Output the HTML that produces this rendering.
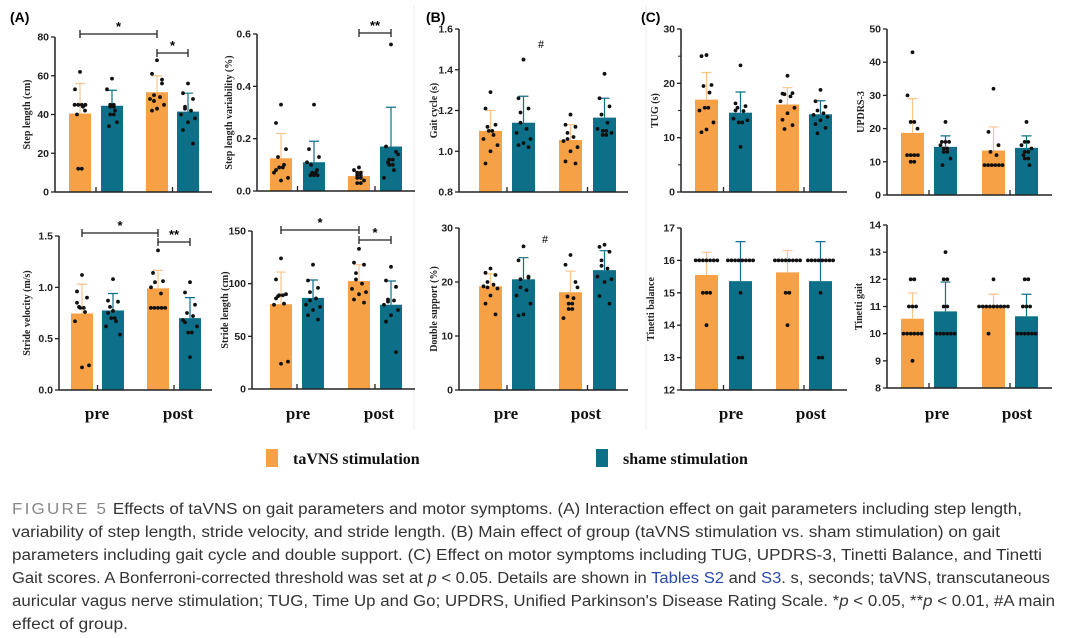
<!DOCTYPE html>
<html><head><meta charset="utf-8"><style>
body{margin:0;background:#fff;}
svg{display:block;}
.tk{font:bold 10.5px "Liberation Sans",sans-serif;fill:#222;}
.yl{font:bold 10px "Liberation Serif",serif;fill:#222;}
.cat{font:bold 17px "Liberation Serif",serif;fill:#111;}
.cap{font:15.5px "Liberation Sans",sans-serif;fill:#333;}
</style></head><body>
<svg id="fig" width="1076" height="638" viewBox="0 0 1076 638" xmlns="http://www.w3.org/2000/svg">
<text x="10" y="22" style="font:bold 14px 'Liberation Sans',sans-serif">(A)</text>
<text x="426" y="22" style="font:bold 14px 'Liberation Sans',sans-serif">(B)</text>
<text x="641" y="22" style="font:bold 14px 'Liberation Sans',sans-serif">(C)</text>
<line x1="414" y1="5" x2="414" y2="430" stroke="#eee"/>
<line x1="646" y1="5" x2="646" y2="430" stroke="#eee"/>
<g id="charts"></g>
<g>
<rect x="266" y="449" width="12" height="18" fill="#F7A146"/>
<text x="293" y="464" style="font:bold 16px 'Liberation Serif',serif" fill="#111">taVNS stimulation</text>
<rect x="596" y="449" width="12" height="18" fill="#0E7088"/>
<text x="623" y="464" style="font:bold 16px 'Liberation Serif',serif" fill="#111">shame stimulation</text>
</g>
<g>
<text class="cap" x="12" y="514" textLength="1010" lengthAdjust="spacingAndGlyphs"><tspan fill="#888" letter-spacing="2">FIGURE 5</tspan>   Effects of taVNS on gait parameters and motor symptoms. (A) Interaction effect on gait parameters including step length,</text>
<text class="cap" x="12" y="537" textLength="988" lengthAdjust="spacingAndGlyphs">variability of step length, stride velocity, and stride length. (B) Main effect of group (taVNS stimulation vs. sham stimulation) on gait</text>
<text class="cap" x="12" y="560" textLength="1030" lengthAdjust="spacingAndGlyphs">parameters including gait cycle and double support. (C) Effect on motor symptoms including TUG, UPDRS-3, Tinetti Balance, and Tinetti</text>
<text class="cap" x="12" y="583" textLength="1038" lengthAdjust="spacingAndGlyphs">Gait scores. A Bonferroni-corrected threshold was set at <tspan font-style="italic">p</tspan> &lt; 0.05. Details are shown in <tspan fill="#2a4aa8">Tables S2</tspan> and <tspan fill="#2a4aa8">S3</tspan>. s, seconds; taVNS, transcutaneous</text>
<text class="cap" x="12" y="606" textLength="1043" lengthAdjust="spacingAndGlyphs">auricular vagus nerve stimulation; TUG, Time Up and Go; UPDRS, Unified Parkinson's Disease Rating Scale. *<tspan font-style="italic">p</tspan> &lt; 0.05, **<tspan font-style="italic">p</tspan> &lt; 0.01, #A main</text>
<text class="cap" x="12" y="629" textLength="116" lengthAdjust="spacingAndGlyphs">effect of group.</text>
</g>
</svg>
<script>
// ---- data ----
const groups = ["pre-taVNS","pre-sham","post-taVNS","post-sham"];
const stepLenMeans=[40.5,44.5,51.5,41.5];
const stepLenErrTop=[56,52.5,60,51];
const stepLenPts=[[62,53,45,45,45,45,42,40,12,12,44],[58.5,53,45,45,44,40,40,36,34,44,42],[68,61,58,50,49,48,45,43,42,56,47],[56,51,48,43,42,40,38,36,32,25,44]];
const stepVarMeans=[0.125,0.11,0.057,0.17];
const stepVarErrTop=[0.22,0.19,0.075,0.32];
const stepVarPts=[[0.33,0.26,0.16,0.13,0.1,0.09,0.09,0.07,0.05,0.04,0.08],[0.33,0.16,0.13,0.1,0.08,0.07,0.07,0.06,0.06,0.06,0.11],[0.09,0.08,0.07,0.07,0.06,0.05,0.05,0.04,0.03,0.03,0.06],[0.56,0.17,0.15,0.12,0.12,0.11,0.1,0.08,0.05,0.14,0.1]];
const velMeans=[0.745,0.775,0.99,0.7];
const velErrTop=[1.03,0.94,1.165,0.9];
const velPts=[[1.12,0.96,0.9,0.81,0.8,0.8,0.76,0.67,0.24,0.22,0.85],[1.08,0.87,0.86,0.81,0.7,0.7,0.67,0.62,0.54,0.77,0.75],[1.36,1.14,1.06,1.05,0.94,0.8,0.8,0.8,0.8,0.8,1.0],[1.05,0.95,0.83,0.75,0.72,0.68,0.62,0.56,0.56,0.32,0.66]];
const strideMeans=[80.5,86.5,102.5,80];
const strideErrTop=[111,103.5,118,102.5];
const stridePts=[[124,104,90,89,89,88,81,80,26,24,86],[118,103,96,92,86,80,78,75,70,66,84],[133,120,118,104,100,95,92,90,85,82,110],[116,103,97,85,84,80,75,70,64,35,83]];
const gaitMeans=[1.1,1.14,1.055,1.165];
const gaitErrTop=[1.2,1.27,1.13,1.26];
const gaitPts=[[1.29,1.21,1.13,1.12,1.1,1.08,1.06,1.03,1.0,0.94,1.1],[1.45,1.26,1.21,1.19,1.11,1.09,1.06,1.04,1.03,1.02,1.14],[1.18,1.13,1.12,1.09,1.07,1.05,1.02,1.0,0.95,0.94,1.06],[1.38,1.26,1.22,1.18,1.14,1.11,1.1,1.09,1.08,1.08,1.1]];
const dsMeans=[19.2,20.5,18.1,22.2];
const dsErrTop=[21.5,24.5,22,25.8];
const dsPts=[[22.5,21.7,21.3,20,19.5,19.2,18.8,17.5,16,14,19],[26.6,24,20.8,20.5,18.5,17.5,16,14,13.8,21,19],[25,23.2,20,17.3,17,16,15,15,13.3,19,16],[26.9,26.5,25.6,24,22.5,21,20.5,20,17.4,16,23]];
const tugMeans=[17,14.6,16.1,14.3];
const tugErrTop=[22,18.4,19.2,16.8];
const tugPts=[[25.2,25,19.7,19.5,18.3,15.5,15.5,15,12.8,11.5,11],[23.3,16.3,15.8,15.5,14.9,13.5,13.2,12.8,12.8,8.3,15],[21.4,18.1,18.2,18,17.6,16.7,15.5,14.5,13.3,12.3,11.6],[18.8,16.7,15.7,15,14.5,14.2,13.8,13.2,12.5,11.8,10.8]];
const updrsMeans=[18.7,14.5,13.4,14.2];
const updrsErrTop=[29,17.8,20.5,17.8];
const updrsPts=[[43,30,22,22,20,12,12,12,12,10,10],[22,16,16,16,15,14,14,13,13,11,9],[32,19,15,13,12,9,9,9,9,9,9],[22,16,16,15,14,13,13,12,11,11,9]];
const balMeans=[15.55,15.36,15.63,15.36];
const balErrTop=[16.25,16.58,16.3,16.58];
const balPts=[[16,16,16,16,16,16,16,15,15,15,14],[16,16,16,16,16,16,16,16,15,13,13],[16,16,16,16,16,16,16,16,15,15,14],[16,16,16,16,16,16,16,16,15,13,13]];
const tgMeans=[10.55,10.82,11.0,10.64];
const tgErrTop=[11.5,11.9,11.45,11.45];
const tgPts=[[12,12,11,11,11,10,10,10,10,10,10,9],[13,12,12,11,11,10,10,10,10,10,10],[12,11,11,11,11,11,11,11,11,11,10],[12,12,11,11,11,10,10,10,10,10,10]];
const catLabels=["pre","post"];

const ORANGE="#F7A146", TEAL="#0E7088", OERR="#F9C48C";
const NS="http://www.w3.org/2000/svg";
const root=document.getElementById('charts');
function mk(tag,attrs,parent){const e=document.createElementNS(NS,tag);for(const k in attrs)e.setAttribute(k,attrs[k]);(parent||root).appendChild(e);return e;}

const panels=[
 {id:'step-length',ax:55,xEnd:212,yTop:37,yBot:192,min:0,max:80,ticks:[0,20,40,60,80],dec:0,bx:[69,101,146,177],bw:22,label:'Step length (cm)',lx:30,means:stepLenMeans,errs:stepLenErrTop,pts:stepLenPts,sig:[[0,2,34,'*'],[2,3,53,'*']]},
 {id:'step-length-variability',ax:257,xEnd:415,yTop:34,yBot:191,min:0,max:0.6,ticks:[0,0.2,0.4,0.6],dec:1,bx:[270,303,348,380],bw:22,label:'Step length variability (%)',lx:232,means:stepVarMeans,errs:stepVarErrTop,pts:stepVarPts,sig:[[2,3,33,'**']]},
 {id:'stride-velocity',ax:59,xEnd:212,yTop:236,yBot:390,min:0,max:1.5,ticks:[0,0.5,1,1.5],dec:1,bx:[71,102,147,179],bw:22,label:'Stride velocity (m/s)',lx:30,means:velMeans,errs:velErrTop,pts:velPts,sig:[[0,2,233,'*'],[2,3,242,'**']],cats:[97,178]},
 {id:'stride-length',ax:252,xEnd:415,yTop:231,yBot:389,min:0,max:150,ticks:[0,50,100,150],dec:0,bx:[270,302,348,380],bw:22,label:'Stride length (cm)',lx:228,means:strideMeans,errs:strideErrTop,pts:stridePts,sig:[[0,2,230,'*'],[2,3,240,'*']],cats:[298,379]},
 {id:'gait-cycle',ax:459,xEnd:628,yTop:29,yBot:192,min:0.8,max:1.6,ticks:[0.8,1.0,1.2,1.4,1.6],dec:1,bx:[479,512,559,593],bw:23,label:'Gait cycle (s)',lx:437,means:gaitMeans,errs:gaitErrTop,pts:gaitPts,sig:[],hash:[541,48]},
 {id:'double-support',ax:459,xEnd:628,yTop:228,yBot:390,min:0,max:30,ticks:[0,10,20,30],dec:0,bx:[479,512,559,593],bw:23,label:'Double support (%)',lx:437,means:dsMeans,errs:dsErrTop,pts:dsPts,sig:[],hash:[545,243],cats:[506,586]},
 {id:'tug',ax:681,xEnd:847,yTop:29,yBot:192,min:0,max:30,ticks:[0,10,20,30],minor:5,dec:0,bx:[695,729,776,809],bw:23,label:'TUG (s)',lx:658,means:tugMeans,errs:tugErrTop,pts:tugPts,sig:[]},
 {id:'updrs-3',ax:887,xEnd:1052,yTop:29,yBot:195,min:0,max:50,ticks:[0,10,20,30,40,50],dec:0,bx:[901,934,982,1015],bw:23,label:'UPDRS-3',lx:864,means:updrsMeans,errs:updrsErrTop,pts:updrsPts,sig:[]},
 {id:'tinetti-balance',ax:681,xEnd:847,yTop:228,yBot:390,min:12,max:17,ticks:[12,13,14,15,16,17],dec:0,bx:[695,729,776,809],bw:23,label:'Tinetti balance',lx:654,means:balMeans,errs:balErrTop,pts:balPts,sig:[],cats:[731,811]},
 {id:'tinetti-gait',ax:887,xEnd:1052,yTop:225,yBot:388,min:8,max:14,ticks:[8,9,10,11,12,13,14],dec:0,bx:[901,934,982,1015],bw:23,label:'Tinetti gait',lx:862,means:tgMeans,errs:tgErrTop,pts:tgPts,sig:[],cats:[937,1017]}
];

panels.forEach(p=>{
 const g=mk('g',{});
 
 
 const y=v=>p.yBot-(v-p.min)/(p.max-p.min)*(p.yBot-p.yTop);
 const cx=i=>p.bx[i]+p.bw/2;
 for(let i=0;i<4;i++){
  const col=i%2===0?ORANGE:TEAL, ecol=i%2===0?OERR:TEAL;
  const b=mk('rect',{x:p.bx[i],y:y(p.means[i]),width:p.bw,height:p.yBot-y(p.means[i]),fill:col},g);
  
  
  const e=mk('path',{d:`M${cx(i)} ${y(p.means[i])}V${y(p.errs[i])}M${cx(i)-5} ${y(p.errs[i])}H${cx(i)+5}`,stroke:ecol,'stroke-width':1.2,fill:'none'},g);
  
  
  const counts={};
  p.pts[i].forEach(v=>{counts[v]=(counts[v]||0)+1;});
  const seen={}; let k=0;
  p.pts[i].forEach(v=>{
   const n=counts[v]; const j=(seen[v]=(seen[v]||0)+1)-1;
   let off;
   if(n>1) off=(j-(n-1)/2)*3.6; else {off=[0,-5,5,-3,3,-7,7][k%7];k++;}
   const d=mk('circle',{cx:cx(i)+off,cy:y(v),r:1.9,fill:'#111'},g);
   
   
  });
 }
 const axY=mk('line',{x1:p.ax,y1:p.yTop,x2:p.ax,y2:p.yBot,stroke:'#222','stroke-width':1.5},g);
 
 
 const axX=mk('line',{x1:p.ax,y1:p.yBot,x2:p.xEnd,y2:p.yBot,stroke:'#222','stroke-width':1.5},g);
 
 
 p.ticks.forEach(t=>{
  mk('line',{x1:p.ax-4,y1:y(t),x2:p.ax,y2:y(t),stroke:'#222','stroke-width':1.3},g);
  const tl=mk('text',{x:p.ax-6,y:y(t)+3.5,'text-anchor':'end',class:'tk'},g);
  tl.textContent=t.toFixed(p.dec);
  
  
 });
 if(p.minor){for(let v=p.min+p.minor;v<p.max;v+=2*p.minor)mk('line',{x1:p.ax-3,y1:y(v),x2:p.ax,y2:y(v),stroke:'#222','stroke-width':1},g);}
 [0,2].forEach(i=>{const tx=(p.bx[i]+p.bw+p.bx[i+1])/2;mk('line',{x1:tx,y1:p.yBot-5,x2:tx,y2:p.yBot,stroke:'#222','stroke-width':1.3},g);});
 const lab=mk('text',{x:p.lx,y:(p.yTop+p.yBot)/2,'text-anchor':'middle',class:'yl',transform:`rotate(-90 ${p.lx} ${(p.yTop+p.yBot)/2})`},g);
 lab.textContent=p.label;
 
 
 p.sig.forEach(s=>{
  const x1=cx(s[0]),x2=cx(s[1]),yy=s[2];
  const br=mk('path',{d:`M${x1} ${yy-4}V${yy+4}M${x1} ${yy}H${x2}M${x2} ${yy-4}V${yy+4}`,stroke:'#222','stroke-width':1.3,fill:'none'},g);
  
  
  const st=mk('text',{x:(x1+x2)/2,y:yy-3,'text-anchor':'middle',style:'font:bold 13px "Liberation Sans",sans-serif'},g);
  st.textContent=s[3];
  
  
 });
 if(p.hash){const h=mk('text',{x:p.hash[0],y:p.hash[1],'text-anchor':'middle',style:'font:12px "Liberation Serif",serif'},g);h.textContent='#';
  
  }
 if(p.cats){p.cats.forEach((x,i)=>{const c=mk('text',{x:x,y:419,'text-anchor':'middle',class:'cat'},g);c.textContent=catLabels[i];
  
  });}
});
</script>
</body></html>
